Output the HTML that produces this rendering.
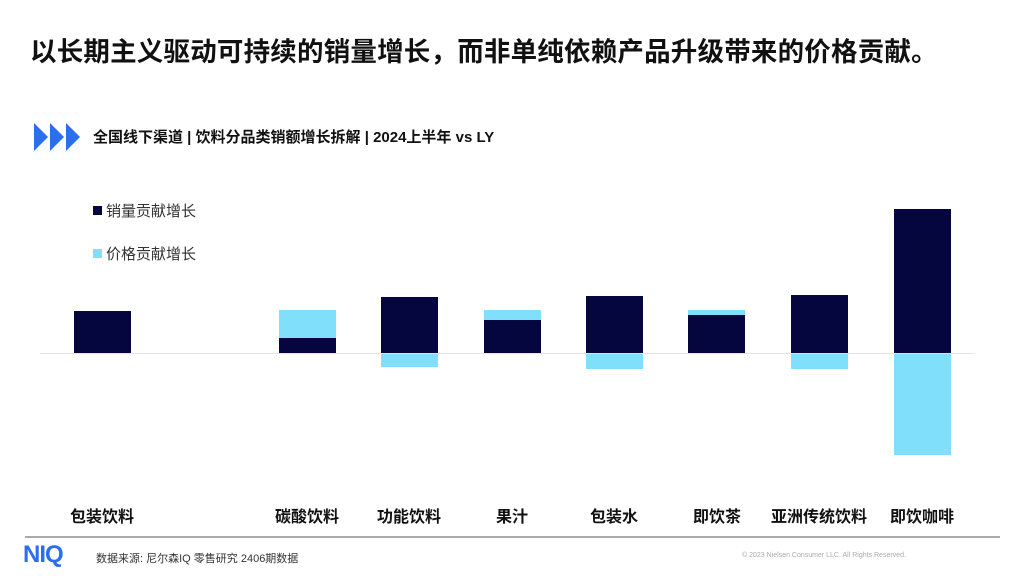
<!DOCTYPE html>
<html><head><meta charset="utf-8"><style>
body{margin:0;width:1024px;height:576px;background:#fff;position:relative;overflow:hidden;font-family:"Liberation Sans","Noto Sans CJK SC",sans-serif;color:#111}
.a{position:absolute;white-space:nowrap}
.bar{position:absolute;width:57px}
.d{background:#06063f}.l{background:#80e0fc}
.lab{position:absolute;top:503px;width:120px;text-align:center;font-size:16px;font-weight:bold;color:#111}
</style></head><body>
<div class="a" style="left:30px;top:30px;font-size:26.5px;font-weight:bold;letter-spacing:0.2px">以长期主义驱动可持续的销量增长，而非单纯依赖产品升级带来的价格贡献。</div>
<svg class="a" style="left:34px;top:123px" width="50" height="28"><polygon points="0,0 14,14 0,28" fill="#2b6ef0"/><polygon points="16,0 30,14 16,28" fill="#2b6ef0"/><polygon points="32,0 46,14 32,28" fill="#2b6ef0"/></svg>
<div class="a" style="left:93px;top:126px;font-size:15px;font-weight:bold">全国线下渠道 | 饮料分品类销额增长拆解 | 2024上半年 vs LY</div>
<div class="a" style="left:93px;top:206px;width:9px;height:9px;background:#06063f"></div>
<div class="a" style="left:106px;top:200px;font-size:15px;color:#333">销量贡献增长</div>
<div class="a" style="left:93px;top:249px;width:9px;height:9px;background:#80e0fc"></div>
<div class="a" style="left:106px;top:243px;font-size:15px;color:#333">价格贡献增长</div>
<div class="a" style="left:40px;top:353px;width:935px;height:1px;background:#e4e4e4"></div>
<div class="bar d" style="left:74px;top:311px;height:42px"></div>
<div class="bar l" style="left:279px;top:310px;height:28px"></div><div class="bar d" style="left:279px;top:338px;height:15px"></div>
<div class="bar d" style="left:381px;top:297px;height:56px"></div><div class="bar l" style="left:381px;top:354px;height:13px"></div>
<div class="bar l" style="left:484px;top:310px;height:10px"></div><div class="bar d" style="left:484px;top:320px;height:33px"></div>
<div class="bar d" style="left:586px;top:296px;height:57px"></div><div class="bar l" style="left:586px;top:354px;height:15px"></div>
<div class="bar l" style="left:688px;top:310px;height:5px"></div><div class="bar d" style="left:688px;top:315px;height:38px"></div>
<div class="bar d" style="left:791px;top:295px;height:58px"></div><div class="bar l" style="left:791px;top:354px;height:15px"></div>
<div class="bar d" style="left:894px;top:209px;height:144px"></div><div class="bar l" style="left:894px;top:354px;height:101px"></div>
<div class="lab" style="left:42px">包装饮料</div>
<div class="lab" style="left:247px">碳酸饮料</div>
<div class="lab" style="left:349px">功能饮料</div>
<div class="lab" style="left:452px">果汁</div>
<div class="lab" style="left:554px">包装水</div>
<div class="lab" style="left:657px">即饮茶</div>
<div class="lab" style="left:759px">亚洲传统饮料</div>
<div class="lab" style="left:862px">即饮咖啡</div>
<div class="a" style="left:25px;top:536px;width:975px;height:2px;background:#aaa"></div>
<div class="a" style="left:23px;top:541px;font-size:24px;font-weight:bold;color:#2b6ef0;letter-spacing:-1px">NIQ</div>
<div class="a" style="left:96px;top:550px;font-size:11px;color:#333">数据来源: 尼尔森IQ 零售研究 2406期数据</div>
<div class="a" style="left:742px;top:552px;font-size:7px;color:#aaa">© 2023 Nielsen Consumer LLC. All Rights Reserved.</div>
</body></html>
